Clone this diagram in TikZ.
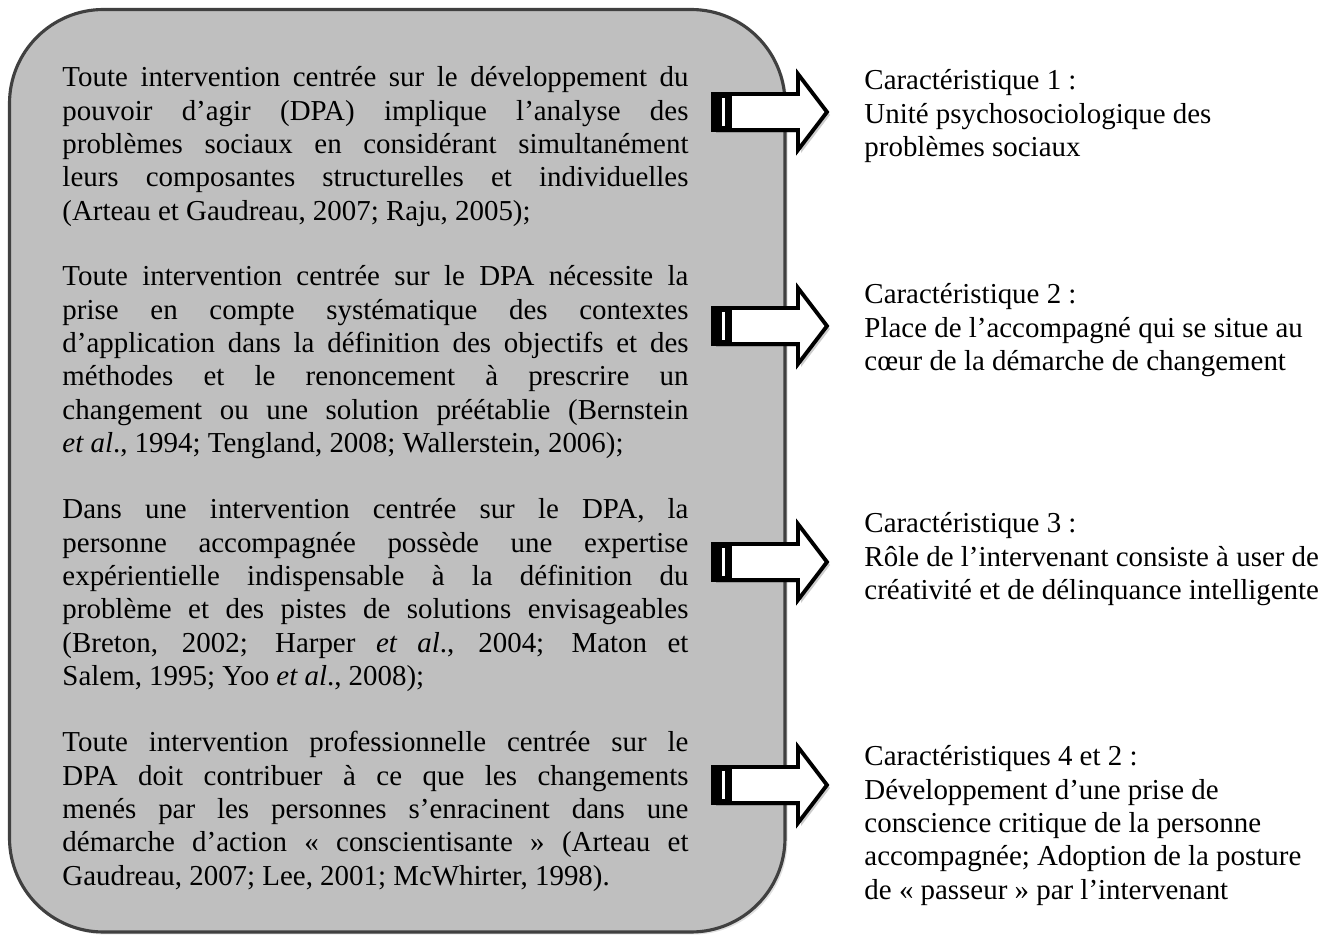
\documentclass[tikz,border=0pt]{standalone}
\usepackage{fontspec}
\setmainfont{Liberation Serif}
\tikzset{
	dpa_box/.style = {draw=black!75, fill=black!25, line width=1.3pt,
		rounded corners=39pt},% cadre gris
	dpa_txt/.style = {anchor=base west, inner sep=0pt, text width=259.8pt,
		align=justify, font=\fontsize{12pt}{13.8pt}\selectfont},% paragraphe du cadre
	car_txt/.style = {anchor=base west, inner sep=0pt, text width=205pt,
		align=flush left, font=\fontsize{12pt}{13.8pt}\selectfont},% caracteristique
	car_arr/.style = {draw=black, fill=white, line width=1.6pt,
		line join=miter},% fleche
	car_shd/.style = {fill=black, opacity=0.2}% ombre de la fleche
}

\begin{document}
\begin{tikzpicture}[x=0.415pt, y=-0.415pt]
	\useasboundingbox (0,0) rectangle (1338,936);
	% cadre
	\fill[black!12, rounded corners=39pt] (12,12) rectangle (787.5,934.5);
	\draw[dpa_box] (9.5,9.5) rectangle (785,932);
	% paragraphes
	\node[dpa_txt] (p1) at (62,87) {Toute intervention centrée sur le développement du\linebreak
		pouvoir d’agir (DPA) implique l’analyse des\linebreak
		problèmes sociaux en considérant simultanément\linebreak
		leurs composantes structurelles et individuelles\linebreak
		(Arteau et Gaudreau, 2007; Raju, 2005);};
	\node[dpa_txt] (p2) at (62,286) {Toute intervention centrée sur le DPA nécessite la\linebreak
		prise en compte systématique des contextes\linebreak
		d’application dans la définition des objectifs et des\linebreak
		méthodes et le renoncement à prescrire un\linebreak
		changement ou une solution préétablie (Bernstein\linebreak
		\emph{et al}., 1994; Tengland, 2008; Wallerstein, 2006);};
	\node[dpa_txt] (p3) at (62,519) {Dans une intervention centrée sur le DPA, la\linebreak
		personne accompagnée possède une expertise\linebreak
		expérientielle indispensable à la définition du\linebreak
		problème et des pistes de solutions envisageables\linebreak
		(Breton, 2002; Harper \emph{et al}., 2004; Maton et\linebreak
		Salem, 1995; Yoo \emph{et al}., 2008);};
	\node[dpa_txt] (p4) at (62,752) {Toute intervention professionnelle centrée sur le\linebreak
		DPA doit contribuer à ce que les changements\linebreak
		menés par les personnes s’enracinent dans une\linebreak
		démarche d’action «~conscientisante~» (Arteau et\linebreak
		Gaudreau, 2007; Lee, 2001; McWhirter, 1998).};
	% fleches
	\foreach \i/\cy in {1/112,2/326,3/562,4/785}{
		\fill[car_shd] (716,\cy-15) -- (801,\cy-15) -- (801,\cy-35) -- (830,\cy+3)
			-- (801,\cy+41) -- (801,\cy+21) -- (716,\cy+21) -- cycle;
		\draw[car_arr] (713,\cy-18) -- (798,\cy-18) -- (798,\cy-38) -- (827,\cy)
			-- (798,\cy+38) -- (798,\cy+18) -- (713,\cy+18) -- cycle;
		\fill[black] (711,\cy-19) rectangle (732,\cy+19);
		\fill[white] (721.5,\cy-14) rectangle (724.5,\cy+14);
		\coordinate (a\i) at (827,\cy);
	}
	% caracteristiques
	\node[car_txt] (c1) at (864,90) {Caractéristique 1 :\\
		Unité psychosociologique des\\
		problèmes sociaux};
	\node[car_txt] (c2) at (864,304) {Caractéristique 2 :\\
		Place de l’accompagné qui se situe au\\
		cœur de la démarche de changement};
	\node[car_txt] (c3) at (864,533) {Caractéristique 3 :\\
		Rôle de l’intervenant consiste à user de\\
		créativité et de délinquance intelligente};
	\node[car_txt] (c4) at (864,766) {Caractéristiques 4 et 2 :\\
		Développement d’une prise de\\
		conscience critique de la personne\\
		accompagnée; Adoption de la posture\\
		de «~passeur~» par l’intervenant};
\end{tikzpicture}
\end{document}
